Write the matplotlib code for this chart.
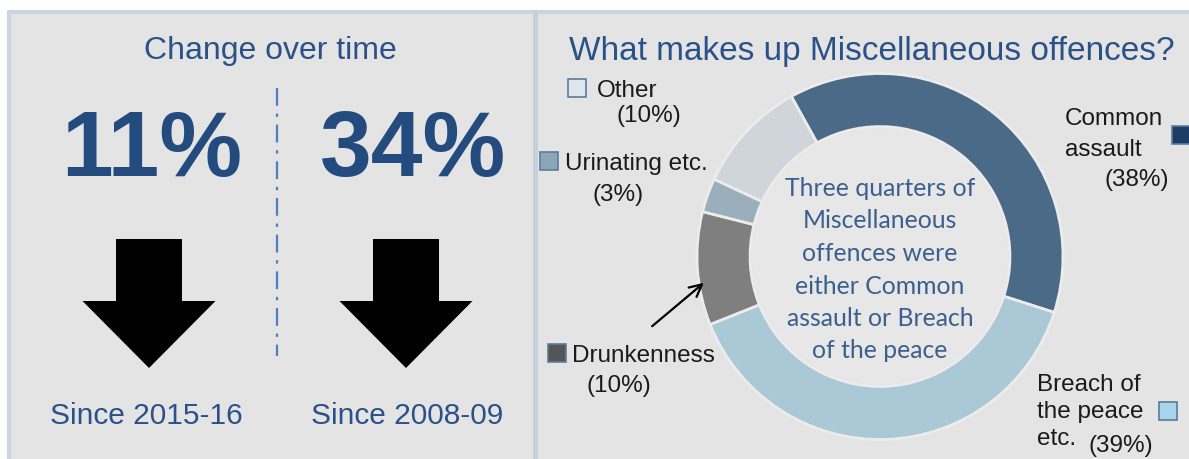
import matplotlib.pyplot as plt
from matplotlib.patches import Rectangle, FancyArrow, Circle

W, H = 1189, 459

# left panel: change over time
periods = ['Since 2015-16', 'Since 2008-09']
changes = [11, 34]

# right panel: what makes up miscellaneous offences
offences = ['Common\nassault', 'Breach of\nthe peace\netc.', 'Drunkenness', 'Urinating etc.', 'Other']
shares = [38, 39, 10, 3, 10]
colours = ['#4b6a88', '#abc8d7', '#7f7f7f', '#9aaebb', '#d0d5dc']
key_colours = ['#1d3d66', '#a9d4ec', '#555555', '#8ca6b8', '#dfe6ee']
centre_lines = ['Three quarters of', 'Miscellaneous', 'offences were',
                'either Common', 'assault or Breach', 'of the peace']

BLUE = '#2b5189'
ARIAL = 'Liberation Sans'

fig = plt.figure(figsize=(W / 100, H / 100), dpi=100)
fig.patch.set_facecolor('white')
bg = fig.add_axes([0, 0, 1, 1])
bg.set_xlim(0, W)
bg.set_ylim(H, 0)
bg.axis('off')

# panels
bg.add_patch(Rectangle((9, 12), 1200, 470, fc='#e4e4e4', ec='#cbd4df', lw=3))
bg.plot([534.5, 534.5], [12, 470], color='#c6d0dc', lw=3.6)

# ---- left panel
bg.text(270, 59, 'Change over time', ha='center', va='baseline',
        fontsize=23, color=BLUE, family=ARIAL)
num_x = [152, 413]
arrow_x = [149, 406]
for i in range(len(changes)):
    bg.text(num_x[i], 176, f'{changes[i]}%', ha='center', va='baseline',
            fontsize=67, fontweight='bold', color='#234b7e', family=ARIAL)
    bg.add_patch(FancyArrow(arrow_x[i], 239, 0, 129, width=66, head_width=133,
                            head_length=67, length_includes_head=True,
                            fc='black', ec='none'))
    bg.text(num_x[i] - 6, 424, periods[i], ha='center', va='baseline',
            fontsize=21.5, color=BLUE, family=ARIAL)
bg.plot([277, 277], [88, 356], color='#4b7fc2', lw=1.6,
        linestyle=(0, (8, 3.5, 1.5, 3.5)))

# ---- right panel
bg.text(872, 60, 'What makes up Miscellaneous offences?', ha='center',
        va='baseline', fontsize=24, color=BLUE, family=ARIAL)

ax = fig.add_axes([(880 - 183) / W, (H - 256.5 - 183) / H, 366 / W, 366 / H])
ax.pie(shares, colors=colours, startangle=119, counterclock=False, radius=1,
       wedgeprops=dict(width=0.29, edgecolor='#ececec', linewidth=2))
ax.add_patch(Circle((0, 0), 0.70, fc='#e7e7e7', ec='none'))
ax.set_xlim(-1, 1)
ax.set_ylim(-1, 1)
ax.axis('off')

# centre note sits on the donut axes so the hole does not cover it
for j, line in enumerate(centre_lines):
    ax.text(880, 196 + j * 32.5, line, ha='center', va='baseline',
            fontsize=17.8, color='#3c5f8e', family='Lato',
            transform=bg.transData)

# labels: (square x, square y, text x, text y, pct x, pct y)
lab_pos = [
    (1172, 126, 1065, 125, 1105, 186),
    (1159, 402, 1037, 391, 1088, 452),
    (548, 344, 572, 362, 587, 392),
    (540, 152, 565, 170, 593, 201),
    (568, 79, 597, 97, 617, 122),
]
line_gap = [31, 27, 0, 0, 0]
for k, name in enumerate(offences):
    sx, sy, tx, ty, px, py = lab_pos[k]
    bg.add_patch(Rectangle((sx, sy), 18, 18, fc=key_colours[k],
                           ec='#5b7c9c', lw=1.2))
    for m, part in enumerate(name.split('\n')):
        bg.text(tx, ty + m * line_gap[k], part, ha='left', va='baseline',
                fontsize=17.5, color='#1a1a1a', family=ARIAL)
    bg.text(px, py, f'({shares[k]}%)', ha='left', va='baseline',
            fontsize=17.5, color='#1a1a1a', family=ARIAL)

ax.annotate('', xy=(706, 281), xytext=(650, 328),
            xycoords=bg.transData, textcoords=bg.transData,
            arrowprops=dict(arrowstyle='->', color='black', lw=1.6,
                            mutation_scale=22))

fig.savefig('out.png', dpi=100, facecolor='white')
